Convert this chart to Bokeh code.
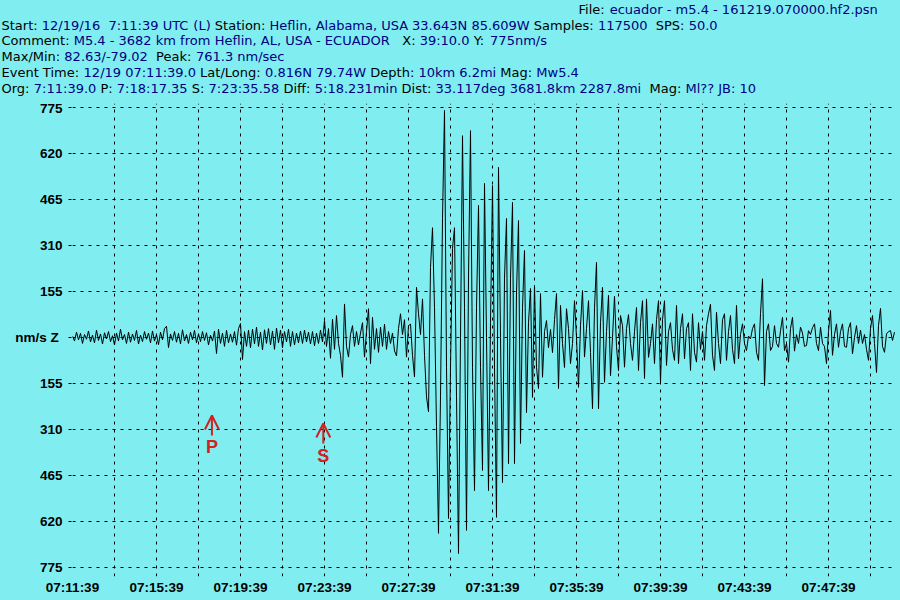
import re
import numpy as np
from bokeh.plotting import figure
from bokeh.layouts import column
from bokeh.models import Range1d, FixedTicker, Arrow, OpenHead
from bokeh.core.properties import value
from bokeh.embed import file_html
from bokeh.resources import INLINE

# ---------------- data ----------------
sample_step_s = 40 / 7
trace_nm_s = [
    5, -12, 18, -8, 14, -20, 10, -6, 22, -15,
    8, -18, 25, -10, 12, -22, 16, -5, 20, -14,
    6, -25, 15, -12, 28, -8, 10, -20, 18, -16,
    12, -10, 24, -22, 8, -14, 20, -6, 15, -18,
    22, -12, 10, -24, 18, -8, 30, 38, -34, 12,
    -10, 20, -16, 14, -22, 26, -12, 10, -20, 18,
    -8, 24, -18, 12, -14, 20, -10, 16, -25, 8,
    -12, 22, -54, 28, -20, 15, -30, 24, -18, 12,
    -16, 20, -26, 30, 47, -74, 20, -30, 25, -35,
    28, -22, 35, -30, 18, -42, 26, -20, 30, -25,
    22, -40, 32, -18, 25, -35, 20, -15, 28, -30,
    20, -25, 15, -18, 22, -20, 25, -15, 18, -22,
    20, -28, 15, -20, 25, -15, 57, -30, 30, -70,
    62, -40, 74, -20, -60, -134, 113, -30, -66, 10,
    40, -30, 20, -25, 15, 50, -66, 20, 97, -88,
    68, -40, 30, -50, 35, -30, 45, -40, 20, -20,
    15, -45, -62, 30, 80, 10, 60, -66, 40, 45,
    -60, -133, 169, 80, 10, 130, -60, -200, -250, 236,
    370, 100, -300, -660, -200, 400, 765, -100, -610, -100,
    300, 370, -200, -728, 0, 680, 100, -650, 200, 697,
    -100, -516, 100, 445, -100, -448, 519, 0, -516, 50,
    512, -100, -606, 573, 0, -489, 200, 401, -425, 200,
    455, -425, 150, 394, -357, 100, 293, -253, 50, 165,
    -202, 175, -100, -172, 148, -134, 20, 57, -34, 27,
    -51, 60, 148, -172, 108, -20, -101, 97, 30, -88,
    -20, 124, 0, -168, 40, 158, -66, 30, 124, -50,
    -240, 100, 253, -240, 50, 169, -151, 20, 142, -129,
    0, 139, -30, -112, 74, 40, -100, 30, 77, -20,
    -77, 20, 101, -111, 50, 124, -138, 130, -67, -20,
    46, -88, 60, 124, -151, 60, 124, -94, 20, 50,
    -40, -77, 108, -88, 30, 80, -72, 30, 50, -111,
    80, -50, -83, 50, -40, 20, -77, 40, 80, 112,
    -60, -111, 85, -20, -88, 60, 80, -77, 20, 74,
    -40, -88, 108, -72, 10, 46, -20, -44, 5, -5,
    30, 46, -50, -77, 80, 198, -162, 20, 46, -44,
    -30, 40, -20, -33, 23, 68, -44, -20, -83, 30,
    68, -46, 10, -20, 35, 15, -30, -27, 23, 10,
    33, 46, -20, -44, 35, -20, -30, -88, 20, 91,
    -60, 10, 46, -33, 20, 46, -30, -33, 30, 50,
    -55, 0, 40, -20, 25, -20, 10, -40, -77, 30,
    74, -20, -118, 40, 98, -30, -50, 12, 20, 23,
    -10, 18,
]
time_tick_s = [0, 120, 240, 360, 480, 600, 720, 840, 960, 1080, 1200, 1320,
               1440, 1560, 1680, 1800, 1920, 2040, 2160, 2280]
time_tick_labels = ["07:11:39", "", "07:15:39", "", "07:19:39", "", "07:23:39", "",
                    "07:27:39", "", "07:31:39", "", "07:35:39", "", "07:39:39", "",
                    "07:43:39", "", "07:47:39", ""]
amp_ticks = [-775, -620, -465, -310, -155, 0, 155, 310, 465, 620, 775]
amp_tick_labels = ["775", "620", "465", "310", "155", "nm/s  Z", "155", "310", "465", "620", "775"]
phase_names = ["P", "S"]
phase_times_s = [398.35, 716.58]

header_fields = [
    [("File:", "ecuador - m5.4 - 161219.070000.hf2.psn")],
    [("Start:", "12/19/16  7:11:39 UTC (L)"), ("Station:", "Heflin, Alabama, USA 33.643N 85.609W"),
     ("Samples:", "117500"), ("SPS:", "50.0")],
    [("Comment:", "M5.4 - 3682 km from Heflin, AL, USA - ECUADOR"), ("X:", "39:10.0"),
     ("Y:", "775nm/s")],
    [("Max/Min:", "82.63/-79.02"), ("Peak:", "761.3 nm/sec")],
    [("Event Time:", "12/19 07:11:39.0"), ("Lat/Long:", "0.816N 79.74W"),
     ("Depth:", "10km 6.2mi"), ("Mag:", "Mw5.4")],
    [("Org:", "7:11:39.0"), ("P:", "7:18:17.35"), ("S:", "7:23:35.58"), ("Diff:", "5:18.231min"),
     ("Dist:", "33.117deg 3681.8km 2287.8mi"), ("Mag:", "Ml?? JB: 10")],
]

# ---------------- layout / style ----------------
BG = "#80eef0"
RED = "#d42020"
LABEL_C = "#000000"
VALUE_C = "#000080"
W = 900
HEAD_H = 100
MAIN_H = 500
FL, FR = 72, 4
FT, FB_BORDER = 3, 24
ZERO_Y = 337 - HEAD_H          # zero line in main-canvas px
FRAME_BOTTOM = MAIN_H - FB_BORDER
UPP = 155 / 46                 # nm/s per pixel
SPP = 240 / 84                 # seconds per pixel

# ---- header figure (pixel coordinates) ----
hdr = figure(width=W, height=HEAD_H, output_backend="svg", toolbar_location=None,
             x_range=Range1d(0, W), y_range=Range1d(HEAD_H, 0),
             x_axis_location=None, y_axis_location=None,
             min_border_left=0, min_border_right=0, min_border_top=0, min_border_bottom=0,
             background_fill_color=BG, border_fill_color=BG, outline_line_color=None)
hdr.frame_align = False
hdr.xgrid.visible = False
hdr.ygrid.visible = False

# DejaVu Sans advance widths (units per 2048 em) for laying out the runs
CW = {' ': 651, '(': 799, ')': 799, ',': 651, '-': 739, '.': 651, '/': 690, ':': 690, '?': 1087,
      'A': 1401, 'B': 1405, 'C': 1430, 'D': 1577, 'E': 1294, 'F': 1178, 'G': 1587, 'H': 1540,
      'I': 604, 'J': 604, 'K': 1343, 'L': 1141, 'M': 1767, 'N': 1532, 'O': 1612, 'P': 1235,
      'Q': 1612, 'R': 1423, 'S': 1300, 'T': 1251, 'U': 1499, 'V': 1401, 'W': 2025, 'X': 1403,
      'Y': 1251, 'Z': 1403, 'a': 1255, 'b': 1300, 'c': 1126, 'd': 1300, 'e': 1260, 'f': 721,
      'g': 1300, 'h': 1298, 'i': 569, 'j': 569, 'k': 1186, 'l': 569, 'm': 1995, 'n': 1298,
      'o': 1253, 'p': 1300, 'q': 1300, 'r': 842, 's': 1067, 't': 803, 'u': 1298, 'v': 1212,
      'w': 1675, 'x': 1212, 'y': 1212, 'z': 1075}
FS = 13


def tw(s):
    return sum(CW.get(c, 1303) for c in s) * FS / 2048


line_x0 = [578, 1, 1, 1, 1, 1]
line_cy = [9, 24.5, 40, 56, 72, 88]
extra_gap = {(1, 3): 2, (2, 1): 3, (3, 1): 2, (5, 5): 2}   # spaces before a field
hx, hy, ht, hc = [], [], [], []
for li, (fields, x0, cy) in enumerate(zip(header_fields, line_x0, line_cy)):
    x = x0
    for fi, (lab, val) in enumerate(fields):
        if fi > 0:
            x += tw(" " * extra_gap.get((li, fi), 1))
        for text, col in ((lab, LABEL_C), (" " + val, VALUE_C)):
            for tok in re.split(r"( +)", text):
                if not tok:
                    continue
                if not tok.startswith(" "):
                    hx.append(x); hy.append(cy); ht.append(tok); hc.append(col)
                x += tw(tok)

hdr.text(x=hx, y=hy, text=ht, text_color=hc, text_font=value("DejaVu Sans"),
         text_font_size=value(f"{FS}px"), text_align="left", text_baseline="middle")

# ---- main seismogram figure ----
times = np.arange(len(trace_nm_s)) * sample_step_s

p = figure(width=W, height=MAIN_H, output_backend="svg", toolbar_location=None,
           x_range=Range1d(0, (W - FL - FR) * SPP),
           y_range=Range1d(-(FRAME_BOTTOM - ZERO_Y) * UPP, (ZERO_Y - FT) * UPP),
           min_border_left=FL, min_border_right=FR, min_border_top=FT,
           min_border_bottom=FB_BORDER,
           background_fill_color=BG, border_fill_color=BG, outline_line_color=None)
p.frame_align = False

xa = p.xaxis[0]
xa.ticker = FixedTicker(ticks=time_tick_s)
xa.major_label_overrides = {t: l for t, l in zip(time_tick_s, time_tick_labels)}
xa.axis_line_color = None
xa.major_tick_line_color = None
xa.minor_tick_line_color = None
xa.major_tick_out = 0
xa.major_tick_in = 0
xa.major_label_standoff = 3
xa.major_label_text_font = "Liberation Sans"
xa.major_label_text_font_style = "bold"
xa.major_label_text_font_size = "13.5px"
xa.major_label_text_color = "black"

ya = p.yaxis[0]
ya.ticker = FixedTicker(ticks=amp_ticks)
ya.major_label_overrides = {t: l for t, l in zip(amp_ticks, amp_tick_labels)}
ya.axis_line_color = None
ya.minor_tick_line_color = None
ya.major_tick_out = 4
ya.major_tick_in = 0
ya.major_tick_line_color = "black"
ya.major_tick_line_dash = "3 1"
ya.major_label_standoff = 6
ya.major_label_text_font = "Liberation Sans"
ya.major_label_text_font_style = "bold"
ya.major_label_text_font_size = "13.5px"
ya.major_label_text_color = "black"

for g in (p.xgrid[0], p.ygrid[0]):
    g.grid_line_color = "black"
    g.grid_line_dash = "3 5"
    g.grid_line_width = 1
p.xgrid[0].ticker = FixedTicker(ticks=time_tick_s)
p.ygrid[0].ticker = FixedTicker(ticks=amp_ticks)

p.line(times, trace_nm_s, line_color="black", line_width=1)

arrow_tip = [-263, -290]
arrow_base = [-330, -357]
letter_y = [-369, -398]
for t, y0, y1 in zip(phase_times_s, arrow_base, arrow_tip):
    p.add_layout(Arrow(end=OpenHead(size=14, line_color=RED, line_width=2),
                       x_start=t, y_start=y0, x_end=t, y_end=y1,
                       line_color=RED, line_width=2))
p.text(x=phase_times_s, y=letter_y, text=phase_names, text_color=RED,
       text_font=value("Liberation Sans"), text_font_style="bold",
       text_font_size=value("18px"), text_align="center", text_baseline="middle")

layout = column(hdr, p, spacing=0, styles={"background-color": BG})
open("out.html", "w").write(file_html(layout, INLINE))
